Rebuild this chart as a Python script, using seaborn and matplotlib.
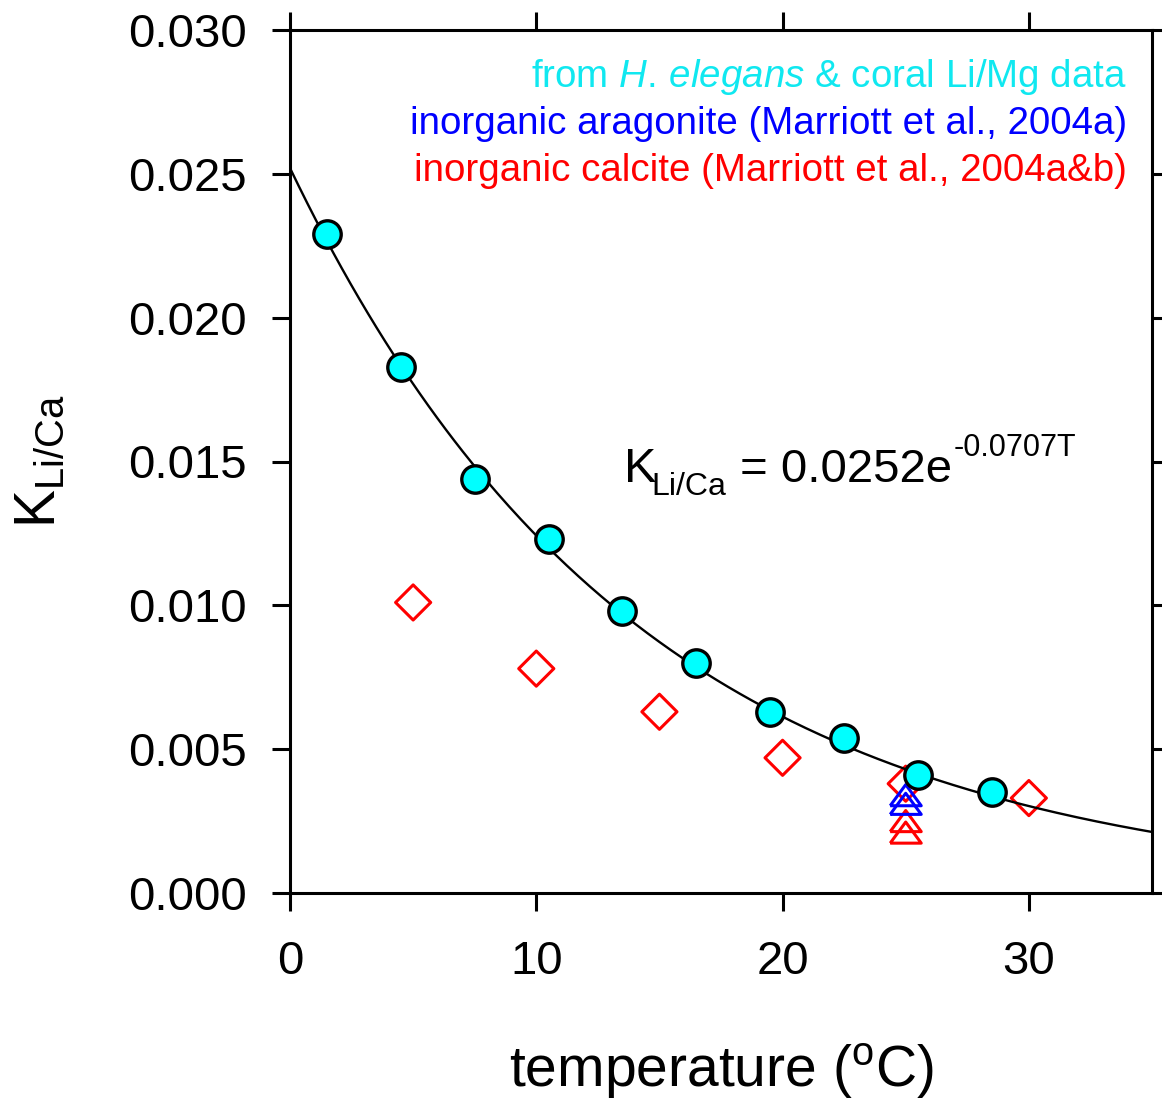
import numpy as np
import pandas as pd
import matplotlib
matplotlib.use("Agg")
import matplotlib.pyplot as plt
from matplotlib.ticker import FormatStrFormatter, MultipleLocator
import seaborn as sns

# --- data -------------------------------------------------------------
# K(Li/Ca) derived from H. elegans & coral Li/Mg data
bio_temp = [1.5, 4.5, 7.5, 10.5, 13.5, 16.5, 19.5, 22.5, 25.5, 28.5]
bio_k = [0.0229, 0.0183, 0.0144, 0.0123, 0.0098, 0.0080, 0.0063, 0.0054, 0.0041, 0.0035]

# inorganic calcite (Marriott et al., 2004a&b)
calcite_temp = [5, 10, 15, 20, 25, 30]
calcite_k = [0.0101, 0.0078, 0.0063, 0.0047, 0.0038, 0.0033]
calcite_tri_temp = [25, 25]
calcite_tri_k = [0.0025, 0.0021]

# inorganic aragonite (Marriott et al., 2004a)
arag_temp = [25, 25]
arag_k = [0.0034, 0.0031]

# exponential fit K = A * exp(-B * T)
fit_a = 0.0252
fit_b = 0.0707

legend_lines = [
    "from $\\mathit{H.\\,elegans}$ & coral Li/Mg data",
    "inorganic aragonite (Marriott et al., 2004a)",
    "inorganic calcite (Marriott et al., 2004a&b)",
]

# --- style ------------------------------------------------------------
sns.set_theme(style="ticks")
plt.rcParams["font.family"] = ["Liberation Sans", "DejaVu Sans"]
plt.rcParams["mathtext.fontset"] = "custom"
plt.rcParams["mathtext.rm"] = "Liberation Sans"
plt.rcParams["mathtext.it"] = "Liberation Sans:italic"
plt.rcParams["mathtext.bf"] = "Liberation Sans:bold"

CYAN = "#00FFFF"
CYAN_TEXT = "#10E8F0"
BLUE = "#0000FF"
RED = "#FF0000"

W, H = 1162, 1102
fig = plt.figure(figsize=(W / 100, H / 100), dpi=100)
ax = fig.add_axes([290 / W, 1 - 893 / H, 862 / W, 863 / H])

# fitted curve
t_fit = np.linspace(0, 35, 300)
fit_df = pd.DataFrame({"T": t_fit, "K": fit_a * np.exp(-fit_b * t_fit)})

# triangle marker, wider than tall
tri = [(-1, -0.68), (1, -0.68), (0, 0.68), (-1, -0.68)]

sns.scatterplot(x=calcite_temp, y=calcite_k, marker="D", s=320,
                facecolors="none", edgecolor=RED, linewidth=2.2, ax=ax, zorder=2)
sns.lineplot(data=fit_df, x="T", y="K", color="black", linewidth=1.7, ax=ax, zorder=3)
sns.scatterplot(x=calcite_tri_temp, y=calcite_tri_k, marker=tri, s=500,
                facecolors="none", edgecolor=RED, linewidth=2.2, ax=ax, zorder=4)
sns.scatterplot(x=arag_temp, y=arag_k, marker=tri, s=500,
                facecolors="none", edgecolor=BLUE, linewidth=2.2, ax=ax, zorder=5)
sns.scatterplot(x=bio_temp, y=bio_k, marker="o", s=390,
                color=CYAN, edgecolor="black", linewidth=2.4, ax=ax, zorder=6)

# --- axes ---------------------------------------------------------------
ax.set_xlim(0, 35)
ax.set_ylim(0, 0.030)
ax.xaxis.set_major_locator(MultipleLocator(10))
ax.yaxis.set_major_locator(MultipleLocator(0.005))
ax.yaxis.set_major_formatter(FormatStrFormatter("%.3f"))

for side in ["left", "right", "top", "bottom"]:
    ax.spines[side].set_visible(True)
    ax.spines[side].set_linewidth(2.2)
    ax.spines[side].set_color("black")

ax.tick_params(axis="both", which="major", direction="out", length=13, width=2.2,
               color="black", labelsize=34, labelcolor="black",
               top=True, right=True, labeltop=False, labelright=False)
ax.tick_params(axis="x", pad=21)
ax.tick_params(axis="y", pad=18)

ax.set_xlabel("temperature ($^{\\mathrm{o}}$C)", fontsize=41, color="black")
ax.set_ylabel("$\\mathrm{K}_{\\mathrm{Li/Ca}}$", fontsize=41, color="black")
ax.xaxis.set_label_coords(0.5, -0.172)
ax.yaxis.set_label_coords(-0.259, 0.5)
ax.grid(False)

# legend text
legend_colors = [CYAN_TEXT, BLUE, RED]
legend_y = [0.934, 0.880, 0.825]
for txt, col, yy in zip(legend_lines, legend_colors, legend_y):
    ax.text(0.971, yy, txt, transform=ax.transAxes, ha="right", va="baseline",
            fontsize=27.7, color=col)

# equation of the fit, assembled from pieces so that sub/superscript sizes
# can be set independently
renderer = fig.canvas.get_renderer()
x0, y0 = ax.transData.transform((13.58, 0.01429))


def put(x_px, y_px, s, size):
    t = fig.text(x_px / W, y_px / H, s, fontsize=size, color="black",
                 ha="left", va="baseline")
    return t.get_window_extent(renderer).x1


x1 = put(x0, y0, "K", 35)
x2 = put(x1 - 5, y0 - 13, "Li/Ca", 23)
x3 = put(x2, y0, f" = {fit_a:.4f}e", 34)
put(x3 + 2, y0 + 26, f"-{fit_b:.4f}T", 22)

fig.savefig("out.png", dpi=100, facecolor="white")
